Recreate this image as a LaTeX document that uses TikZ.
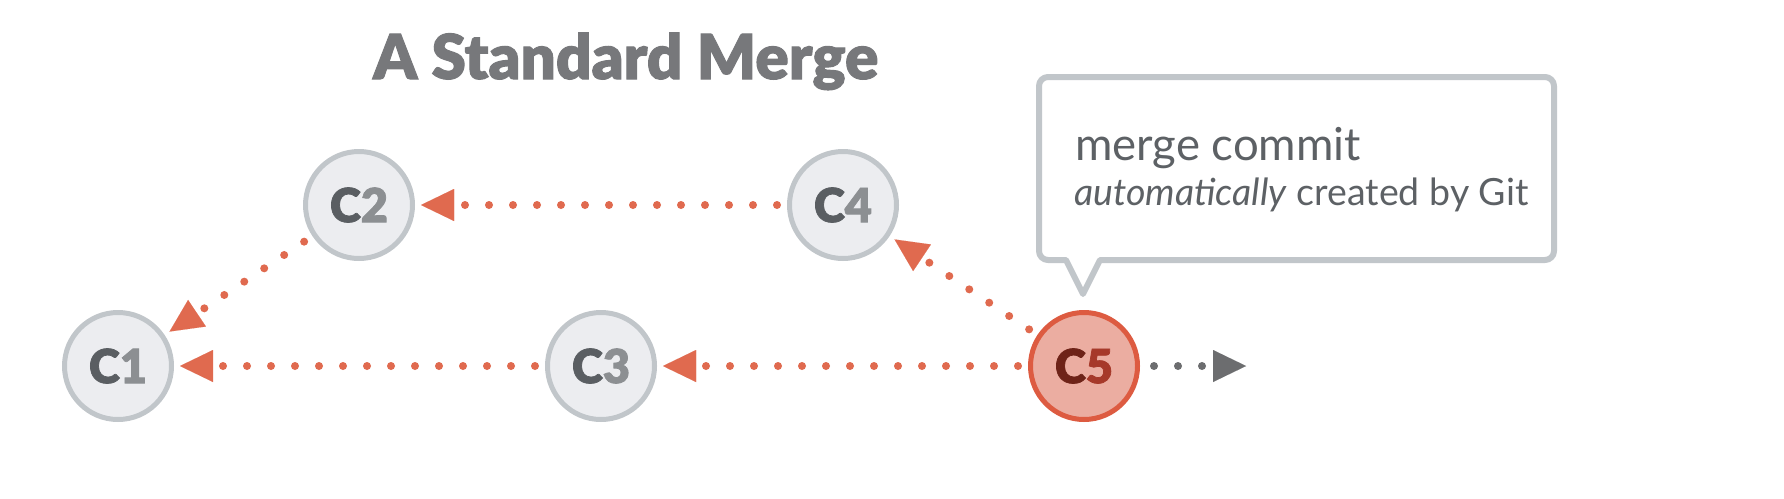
\documentclass[tikz,border=0pt]{standalone}
\usepackage{fontspec}
\setmainfont{Lato}
\newfontfamily\blackfont{Lato}[UprightFont={* Black}, FakeBold=1.6]
\usetikzlibrary{arrows.meta}
\definecolor{cfill}{HTML}{ECEDF0}
\definecolor{cline}{HTML}{C1C6CA}
\definecolor{mfill}{HTML}{EBADA1}
\definecolor{mline}{HTML}{DD5B41}
\definecolor{arr}{HTML}{E06A4F}
\definecolor{darr}{HTML}{6C6D6F}
\definecolor{cdark}{HTML}{5A5E62}
\definecolor{clight}{HTML}{8C8F92}
\definecolor{mdark}{HTML}{6E2318}
\definecolor{mlight}{HTML}{A6392A}
\definecolor{titlec}{HTML}{77787B}
\definecolor{txt}{HTML}{5D6165}
\begin{document}
\begin{tikzpicture}[x=1pt,y=-1pt,
  commit/.style={circle, minimum size=107pt, inner sep=0pt, line width=5pt,
    draw=cline, fill=cfill, font=\blackfont\fontsize{47}{47}\selectfont},
  merged/.style={commit, draw=mline, fill=mfill},
  link/.style={draw=arr, line width=8pt, line cap=round,
    dash pattern=on 0pt off 24pt, shorten <=10pt, shorten >=6pt,
    -{Triangle[length=33pt,width=32pt,line width=0.01pt]}},
  outlink/.style={link, draw=darr, shorten <=14pt, shorten >=0pt},
  callout/.style={draw=cline, line width=6pt, fill=white, line join=round},
  ctext/.style={anchor=base west, inner sep=0pt, text=txt}
]
\useasboundingbox (0,0) rectangle (1784,498);
\fill[white] (0,0) rectangle (1784,498);

\node[anchor=base west, inner sep=0pt, text=titlec,
  font=\blackfont\fontsize{62}{62}\selectfont] (title) at (373,79) {A Standard Merge};

\node[commit] (c1) at (118,366) {\textcolor{cdark}{C}\textcolor{clight}{1}};
\node[commit] (c2) at (359,205) {\textcolor{cdark}{C}\textcolor{clight}{2}};
\node[commit] (c3) at (601,366) {\textcolor{cdark}{C}\textcolor{clight}{3}};
\node[commit] (c4) at (843,205) {\textcolor{cdark}{C}\textcolor{clight}{4}};
\node[merged] (c5) at (1084,366) {\textcolor{mdark}{C}\textcolor{mlight}{5}};
\coordinate (next) at (1246,366);

\draw[link] (c2) -- (c1);
\draw[link] (c3) -- (c1);
\draw[link] (c4) -- (c2);
\draw[link] (c5) -- (c3);
\draw[link] (c5) -- (c4);
\draw[outlink] (c5) -- (next);

\draw[callout] (1100,260) [rounded corners=9pt] -- (1554,260) -- (1554,77)
  -- (1039,77) -- (1039,260) [sharp corners] -- (1066,260) -- (1083,294) -- cycle;
\node[ctext, font=\fontsize{45.5}{45.5}\selectfont] (l1) at (1075,160) {merge commit};
\node[ctext, font=\fontsize{37.5}{37.5}\selectfont] (l2) at (1074,205) {\textit{automatically} created by Git};
\end{tikzpicture}
\end{document}
